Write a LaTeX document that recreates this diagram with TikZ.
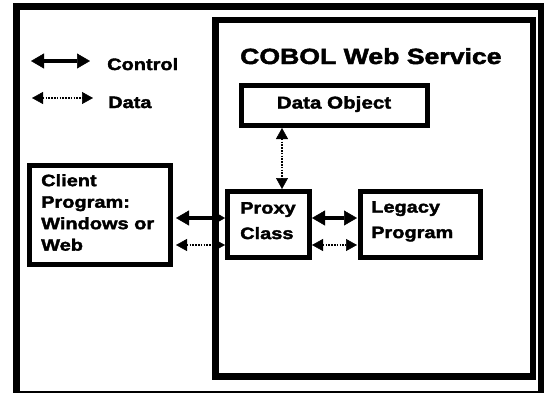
\documentclass[tikz,border=0pt]{standalone}
\usepackage{fontspec}
\newfontfamily\dfont{Liberation Sans}[FakeStretch=1.21,FakeBold=2.2]
\usetikzlibrary{arrows.meta}
\tikzset{
  frame/.style={draw, line width=6.5pt, inner sep=0pt},
  boxnode/.style={draw, line width=5pt, inner sep=0pt},
  lbl/.style={inner sep=0pt, align=left, font=\dfont\bfseries\fontsize{16.5}{25.5}\selectfont},
  ctrl/.style={line width=4.5pt, {Triangle[length=13pt,width=15pt,line width=0.5pt]}-{Triangle[length=13pt,width=15pt,line width=0.5pt]}},
  dat/.style={line width=1.6pt, dash pattern=on 1.6pt off 1.2pt, {Triangle[length=11pt,width=12pt,line width=0.5pt]}-{Triangle[length=11pt,width=12pt,line width=0.5pt]}},
}
\begin{document}
\begin{tikzpicture}[x=1pt,y=-1pt]
\useasboundingbox (0,0) rectangle (549,392);
\fill[white] (0,0) rectangle (549,392);
% frames
\node[frame, minimum width=524.5pt, minimum height=387.5pt] (outer) at (278.75,200.25) {};
\node[frame, minimum width=317.5pt, minimum height=356.5pt] (service) at (374.25,198.25) {};
% boxes
\node[boxnode, minimum width=186pt, minimum height=40pt] (dataobj) at (334.5,105.5) {};
\node[boxnode, minimum width=141pt, minimum height=99pt] (client) at (100,215) {};
\node[boxnode, minimum width=82pt, minimum height=66pt] (proxy) at (268.5,224.5) {};
\node[boxnode, minimum width=120pt, minimum height=66pt] (legacy) at (420.5,224.5) {};
% texts
\node[lbl, font=\dfont\bfseries\fontsize{22}{26}\selectfont, anchor=base west] (title) at (240,64) {COBOL Web Service};
\node[lbl, anchor=base west] (ctrllbl) at (107,70) {Control};
\node[lbl, anchor=base west] (datalbl) at (108,108) {Data};
\node[lbl, font=\dfont\bfseries\fontsize{17}{20}\selectfont, anchor=base] (dotxt) at (334,108.5) {Data Object};
\node[lbl, anchor=north west, font=\dfont\bfseries\fontsize{16.5}{21.5}\selectfont] (clienttxt) at (41,174) {Client\\Program:\\Windows or\\Web};
\node[lbl, anchor=north west] (proxytxt) at (240,202) {Proxy\\Class};
\node[lbl, anchor=north west] (legacytxt) at (371,201) {Legacy\\Program};
% helper coordinates
\coordinate (cy) at (0,218);
\coordinate (dy) at (0,245);
\coordinate (vx) at (282,0);
% connectors
\draw[ctrl, shorten <=3pt] (client.east |- cy) -- (proxy.west |- cy);
\draw[dat, shorten <=3pt] (client.east |- dy) -- (proxy.west |- dy);
\draw[ctrl, shorten >=1pt] (proxy.east |- cy) -- (legacy.west |- cy);
\draw[dat, shorten >=1pt] (proxy.east |- dy) -- (legacy.west |- dy);
\draw[dat] (dataobj.south -| vx) -- (proxy.north -| vx);
% legend
\coordinate (l1a) at (31,61);
\coordinate (l1b) at (90,61);
\coordinate (l2a) at (32,98);
\coordinate (l2b) at (93,98);
\draw[ctrl] (l1a) -- (l1b);
\draw[dat] (l2a) -- (l2b);
\end{tikzpicture}
\end{document}
